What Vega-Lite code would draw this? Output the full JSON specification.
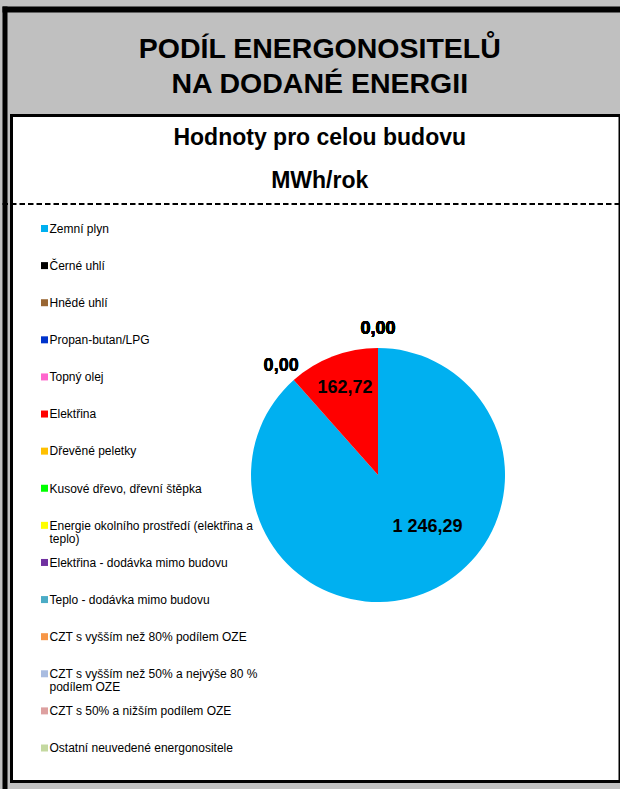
{
  "$schema": "https://vega.github.io/schema/vega-lite/v6.json",
  "width": 608.5,
  "height": 666,
  "autosize": {"type": "none"},
  "padding": {"left": 11.5, "top": 115.5, "right": 0, "bottom": 7.5},
  "background": "#C0C0C0",
  "view": {"fill": "white", "stroke": "black", "strokeWidth": 3},
  "title": {
    "text": ["PODÍL ENERGONOSITELŮ", "NA DODANÉ ENERGII"],
    "subtitle": ["Hodnoty pro celou budovu", "MWh/rok"],
    "frame": "group",
    "anchor": "middle",
    "orient": "top",
    "offset": -183.5,
    "dx": 4,
    "font": "Liberation Sans",
    "fontSize": 28.5,
    "fontWeight": "bold",
    "color": "black",
    "lineHeight": 35.5,
    "subtitleFont": "Liberation Sans",
    "subtitleFontSize": 23,
    "subtitleFontWeight": "bold",
    "subtitleColor": "black",
    "subtitleLineHeight": 43,
    "subtitlePadding": 28
  },
  "config": {
    "font": "Liberation Sans",
    "locale": {"number": {"decimal": ",", "thousands": " ", "grouping": [3], "currency": ["", ""]}}
  },
  "data": {
    "values": [
      {"energonositel": "Zemní plyn", "MWh": 1246.29, "poradi": 1},
      {"energonositel": "Černé uhlí", "MWh": 0, "poradi": 2},
      {"energonositel": "Hnědé uhlí", "MWh": 0, "poradi": 3},
      {"energonositel": "Propan-butan/LPG", "MWh": 0, "poradi": 4},
      {"energonositel": "Topný olej", "MWh": 0, "poradi": 5},
      {"energonositel": "Elektřina", "MWh": 162.72, "poradi": 6},
      {"energonositel": "Dřevěné peletky", "MWh": 0, "poradi": 7},
      {"energonositel": "Kusové dřevo, dřevní štěpka", "MWh": 0, "poradi": 8},
      {"energonositel": "Energie okolního prostředí (elektřina a teplo)", "MWh": 0, "poradi": 9},
      {"energonositel": "Elektřina - dodávka mimo budovu", "MWh": 0, "poradi": 10},
      {"energonositel": "Teplo - dodávka mimo budovu", "MWh": 0, "poradi": 11},
      {"energonositel": "CZT s vyšším než 80% podílem OZE", "MWh": 0, "poradi": 12},
      {"energonositel": "CZT  s vyšším než 50% a nejvýše 80 % podílem OZE", "MWh": 0, "poradi": 13},
      {"energonositel": "CZT s 50% a nižším podílem OZE", "MWh": 0, "poradi": 14},
      {"energonositel": "Ostatní neuvedené energonositele", "MWh": 0, "poradi": 15}
    ]
  },
  "transform": [
    {"calculate": "replace(replace(datum.energonositel, 'elektřina a teplo', 'elektřina a\\nteplo'), 'nejvýše 80 % podílem', 'nejvýše 80 %\\npodílem')", "as": "popisek"}
  ],
  "resolve": {"scale": {"y": "independent"}},
  "layer": [
    {
      "layer": [
        {
          "mark": {"type": "arc", "outerRadius": 127, "strokeWidth": 0},
          "encoding": {
            "theta": {"field": "MWh", "type": "quantitative", "stack": true},
            "order": {"field": "poradi", "type": "quantitative"},
            "color": {
              "field": "energonositel",
              "type": "nominal",
              "legend": null,
              "scale": {
                "domain": [
                  "Zemní plyn", "Černé uhlí", "Hnědé uhlí", "Propan-butan/LPG", "Topný olej", "Elektřina",
                  "Dřevěné peletky", "Kusové dřevo, dřevní štěpka", "Energie okolního prostředí (elektřina a teplo)",
                  "Elektřina - dodávka mimo budovu", "Teplo - dodávka mimo budovu", "CZT s vyšším než 80% podílem OZE",
                  "CZT  s vyšším než 50% a nejvýše 80 % podílem OZE", "CZT s 50% a nižším podílem OZE", "Ostatní neuvedené energonositele"
                ],
                "range": [
                  "#00B0F0", "#000000", "#996633", "#0033CC", "#FF66CC", "#FF0000",
                  "#FFC000", "#00FF00", "#FFFF00", "#7030A0", "#4BACC6", "#F79646",
                  "#A9BCE0", "#DDA0A0", "#C4D9A0"
                ]
              }
            },
            "x": {
              "datum": 0.6055, "type": "quantitative",
              "scale": {"domain": [0, 1], "range": [-9.5, 611.5], "nice": false, "zero": false},
              "axis": {"orient": "top", "offset": 106.5, "domainColor": "black", "domainWidth": 6, "domainOpacity": 1, "ticks": false, "labels": false, "grid": false, "title": null}
            },
            "y": {
              "datum": 0.599, "type": "quantitative",
              "scale": {"domain": [0, 1], "range": [-109.5, 673.5], "nice": false, "zero": false},
              "axis": {"orient": "left", "offset": 7, "domainColor": "black", "domainWidth": 5, "domainOpacity": 1, "ticks": false, "labels": false, "title": null, "grid": true, "values": [0.2522], "gridColor": "black", "gridWidth": 2, "gridOpacity": 1, "gridDash": [5.5, 3]}
            }
          }
        },
        {
          "mark": {"type": "text", "radius": 146, "fontSize": 18, "fontWeight": "bold", "color": "black"},
          "encoding": {
            "theta": {"field": "MWh", "type": "quantitative", "stack": true},
            "order": {"field": "poradi", "type": "quantitative"},
            "x": {"datum": 0.6055, "type": "quantitative"},
            "y": {"datum": 0.599, "type": "quantitative"},
            "text": {"condition": {"test": "datum.MWh === 0", "field": "MWh", "type": "quantitative", "format": ",.2f"}, "value": ""}
          }
        },
        {
          "mark": {"type": "text", "radius": 93, "fontSize": 18, "fontWeight": "bold", "color": "black"},
          "encoding": {
            "theta": {"field": "MWh", "type": "quantitative", "stack": true},
            "order": {"field": "poradi", "type": "quantitative"},
            "x": {"datum": 0.6055, "type": "quantitative"},
            "y": {"datum": 0.599, "type": "quantitative"},
            "text": {"condition": {"test": "datum.poradi === 6", "field": "MWh", "type": "quantitative", "format": ",.2f"}, "value": ""}
          }
        },
        {
          "mark": {"type": "text", "radius": 72, "dx": 24, "dy": -15, "fontSize": 18, "fontWeight": "bold", "color": "black"},
          "encoding": {
            "theta": {"field": "MWh", "type": "quantitative", "stack": true},
            "order": {"field": "poradi", "type": "quantitative"},
            "x": {"datum": 0.6055, "type": "quantitative"},
            "y": {"datum": 0.599, "type": "quantitative"},
            "text": {"condition": {"test": "datum.poradi === 1", "field": "MWh", "type": "quantitative", "format": ",.2f"}, "value": ""}
          }
        }
      ]
    },
    {
      "layer": [
        {
          "mark": {"type": "point", "shape": "square", "filled": true, "size": 49, "opacity": 1, "strokeWidth": 0},
          "encoding": {
            "x": {"datum": 0.0684, "type": "quantitative"},
            "y": {"field": "energonositel", "type": "nominal", "sort": {"field": "poradi"}, "scale": {"type": "point", "range": [113, 632.5], "padding": 0}, "axis": null},
            "color": {"field": "energonositel", "type": "nominal", "legend": null}
          }
        },
        {
          "mark": {"type": "text", "align": "left", "baseline": "alphabetic", "dx": 5, "dy": 4.3, "fontSize": 12, "lineHeight": 13, "lineBreak": "\n", "color": "black"},
          "encoding": {
            "x": {"datum": 0.0684, "type": "quantitative"},
            "y": {"field": "energonositel", "type": "nominal", "sort": {"field": "poradi"}, "axis": null},
            "text": {"field": "popisek", "type": "nominal"}
          }
        }
      ]
    }
  ]
}
